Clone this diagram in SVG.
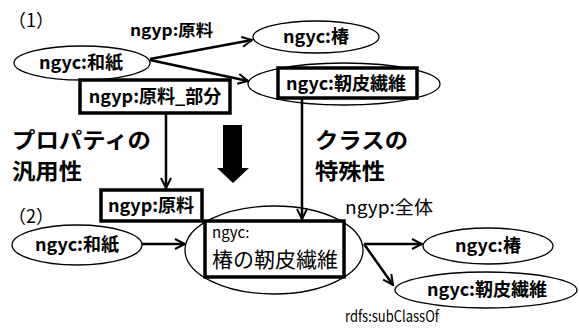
<svg xmlns="http://www.w3.org/2000/svg" width="579" height="329" viewBox="0 0 579 329">
<defs>
<marker id="arr" viewBox="0 0 12 12" refX="11" refY="6" markerWidth="12" markerHeight="12" markerUnits="userSpaceOnUse" orient="auto">
<path d="M1,1 L11,6 L1,11" fill="none" stroke="#000" stroke-width="2"/>
</marker>
<style>
.t{font-family:"Noto Sans CJK JP","Liberation Sans",sans-serif;fill:#000}
.b{font-weight:bold}
.el{fill:#fff;stroke:#000;stroke-width:1.3}
.bx{fill:#fff;stroke:#000;stroke-width:3.5}
.cn{fill:none;stroke:#000;stroke-width:2.5;marker-end:url(#arr)}
</style>
</defs>
<rect width="579" height="329" fill="#fff"/>
<text class="t" x="8" y="27" font-size="18">（1）</text>
<text class="t" x="8" y="223" font-size="18">（2）</text>

<g id="n-washi1">
<ellipse class="el" cx="82" cy="63" rx="68" ry="17"/>
<text class="t b" x="81" y="69" font-size="18" text-anchor="middle">ngyc:和紙</text>
</g>
<g id="n-kozo1">
<ellipse class="el" cx="316" cy="37" rx="63" ry="16"/>
<text class="t b" x="316" y="43" font-size="18" text-anchor="middle">ngyc:椿</text>
</g>
<g id="n-jinpi1">
<ellipse class="el" cx="344" cy="84" rx="96" ry="21"/>
<rect class="bx" x="278" y="68" width="139" height="30"/>
<text class="t b" x="346" y="90" font-size="18" text-anchor="middle">ngyc:靭皮繊維</text>
</g>
<g id="n-genryo-bubun">
<rect class="bx" x="80" y="80" width="150" height="33"/>
<text class="t b" x="155" y="103" font-size="18" text-anchor="middle">ngyp:原料_部分</text>
</g>
<g id="n-generic">
<text class="t b" x="12" y="148" font-size="22" textLength="139" lengthAdjust="spacingAndGlyphs">プロパティの</text>
<text class="t b" x="12" y="179" font-size="22" textLength="70" lengthAdjust="spacingAndGlyphs">汎用性</text>
</g>
<g id="n-special">
<text class="t b" x="315" y="148" font-size="22" textLength="93" lengthAdjust="spacingAndGlyphs">クラスの</text>
<text class="t b" x="315" y="179" font-size="22" textLength="70" lengthAdjust="spacingAndGlyphs">特殊性</text>
</g>
<g id="n-bigarrow">
<path d="M223,125 H242 V168 H249 L233,183 L217,168 H223 Z" fill="#000"/>
</g>
<g id="n-genryo">
<rect class="bx" x="101" y="190" width="101" height="31"/>
<text class="t b" x="151" y="212" font-size="18" text-anchor="middle">ngyp:原料</text>
</g>
<g id="n-washi2">
<ellipse class="el" cx="77" cy="245" rx="65" ry="20"/>
<text class="t b" x="77" y="251" font-size="18" text-anchor="middle">ngyc:和紙</text>
</g>
<g id="n-kozo-jinpi">
<ellipse class="el" cx="274" cy="250" rx="89" ry="44"/>
<rect class="bx" x="205" y="221" width="139" height="56"/>
<text class="t" x="212" y="238" font-size="15">ngyc:</text>
<text class="t" x="212" y="267" font-size="21">椿の靭皮繊維</text>
</g>
<g id="n-kozo2">
<ellipse class="el" cx="488" cy="246" rx="65" ry="18"/>
<text class="t b" x="488" y="252" font-size="18" text-anchor="middle">ngyc:椿</text>
</g>
<g id="n-jinpi2">
<ellipse class="el" cx="486" cy="290" rx="91" ry="18"/>
<text class="t b" x="487" y="296" font-size="18" text-anchor="middle">ngyc:靭皮繊維</text>
</g>

<g id="connectors">
<line class="cn" x1="150" y1="59" x2="252" y2="40"/>
<line class="cn" x1="150" y1="60" x2="248" y2="81"/>
<line class="cn" x1="166" y1="113" x2="166" y2="188"/>
<line class="cn" x1="302" y1="98" x2="302" y2="219"/>
<line class="cn" x1="142" y1="244" x2="185" y2="244"/>
<line class="cn" x1="364" y1="244" x2="422" y2="244"/>
<line class="cn" x1="364" y1="244" x2="393" y2="285"/>
<text class="t b" x="130" y="36" font-size="16" textLength="83" lengthAdjust="spacingAndGlyphs">ngyp:原料</text>
<text class="t" x="345" y="214" font-size="18" textLength="88" lengthAdjust="spacingAndGlyphs">ngyp:全体</text>
<text class="t" x="345" y="322" font-size="15.5" textLength="94" lengthAdjust="spacingAndGlyphs">rdfs:subClassOf</text>
</g>
</svg>
